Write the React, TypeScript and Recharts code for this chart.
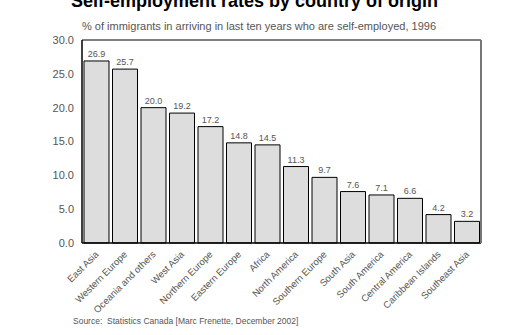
import { BarChart, Bar, XAxis, YAxis, LabelList, ReferenceLine } from 'recharts'

const regions = [
  'East Asia', 'Western Europe', 'Oceania and others', 'West Asia', 'Northern Europe',
  'Eastern Europe', 'Africa', 'North America', 'Southern Europe', 'South Asia',
  'South America', 'Central America', 'Caribbean Islands', 'Southeast Asia',
]
const selfEmployed = [26.9, 25.7, 20.0, 19.2, 17.2, 14.8, 14.5, 11.3, 9.7, 7.6, 7.1, 6.6, 4.2, 3.2]
const yTicks = [0, 5, 10, 15, 20, 25, 30]

const data = regions.map((region, i) => ({ region, value: selfEmployed[i] }))

const FONT = '"Liberation Sans", Arial, sans-serif'

// rotated category labels, ending just under the tick
function RegionTick(props: any) {
  const { x, y, payload } = props
  return (
    <g transform={`translate(${x + 3},${y + 4})`}>
      <text transform="rotate(-45)" textAnchor="end" fontSize={9.5} fill="#555" fontFamily={FONT}>
        {payload.value}
      </text>
    </g>
  )
}

export default function App() {
  return (
    <div style={{ position: 'absolute', left: 0, top: 0, width: 509, height: 335, background: '#fff', fontFamily: FONT }}>
      <div style={{
        position: 'absolute', left: 0, width: 509, top: -9, textAlign: 'center',
        fontFamily: '"Liberation Sans Narrow", "Liberation Sans", Arial, sans-serif',
        fontWeight: 700, fontSize: 18, color: '#000', whiteSpace: 'nowrap',
      }}>
        Self-employment rates by country of origin
      </div>
      <div style={{ position: 'absolute', left: 82, top: 20, fontSize: 11, color: '#555', whiteSpace: 'nowrap' }}>
        % of immigrants in arriving in last ten years who are self-employed, 1996
      </div>
      <BarChart
        width={509}
        height={335}
        data={data}
        margin={{ top: 40, right: 27, left: 0, bottom: 22 }}
        barCategoryGap={2}
      >
        <XAxis
          dataKey="region"
          interval={0}
          height={70}
          tickLine={false}
          axisLine={{ stroke: '#000', strokeWidth: 1.5 }}
          tick={<RegionTick />}
        />
        <YAxis
          domain={[0, 30]}
          ticks={yTicks}
          width={82}
          tickLine={false}
          tickMargin={2}
          axisLine={{ stroke: '#000', strokeWidth: 1.5 }}
          tick={{ fontSize: 11, fill: '#555', fontFamily: FONT }}
          tickFormatter={(v: number) => v.toFixed(1)}
        />
        <YAxis
          yAxisId="right"
          orientation="right"
          width={1}
          domain={[0, 30]}
          tick={false}
          tickLine={false}
          axisLine={{ stroke: '#777', strokeWidth: 2 }}
        />
        <ReferenceLine y={30} stroke="#000" strokeWidth={1} />
        <Bar dataKey="value" fill="#dddddd" stroke="#000" strokeWidth={1} isAnimationActive={false}>
          <LabelList
            dataKey="value"
            position="top"
            offset={4}
            fontSize={9}
            fill="#555"
            fontFamily={FONT}
            formatter={(v: any) => Number(v).toFixed(1)}
          />
        </Bar>
      </BarChart>
      <div style={{ position: 'absolute', left: 73, top: 316, fontSize: 8.5, color: '#555', whiteSpace: 'nowrap' }}>
        Source:&nbsp; Statistics Canada [Marc Frenette, December 2002]
      </div>
    </div>
  )
}
